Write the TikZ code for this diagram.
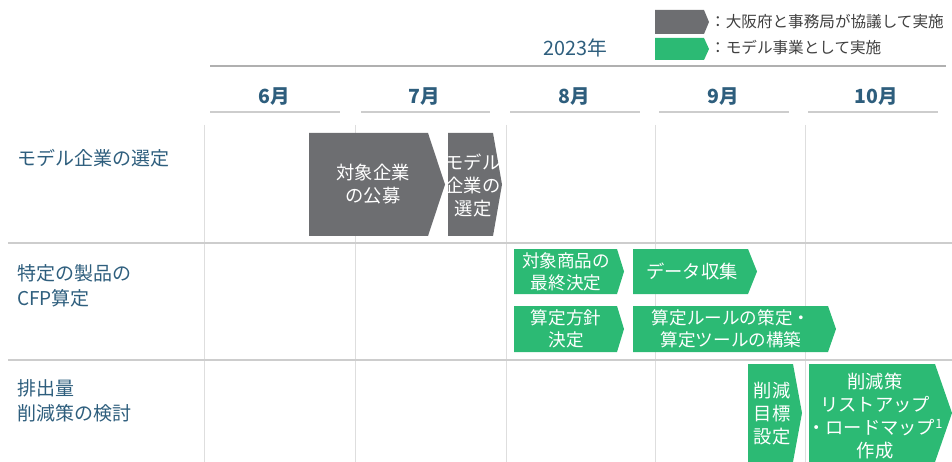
\documentclass[tikz,border=0pt]{standalone}
\usepackage{fontspec}
\setmainfont{Noto Sans CJK JP}
\definecolor{grayc}{RGB}{109,110,113}
\definecolor{greenc}{RGB}{44,186,116}
\definecolor{labelc}{RGB}{46,94,125}
\definecolor{legc}{RGB}{64,64,64}
\definecolor{gridv}{RGB}{222,222,222}
\definecolor{gridh}{RGB}{205,205,205}
\definecolor{topl}{RGB}{176,176,176}
\newcommand\chevpath[6]{% color, x1, x2, xtip, ytop, ybot
  \fill[#1] (#2,#5) -- (#3,#5) -- (#4,{(#5+#6)/2}) -- (#3,#6) -- (#2,#6) -- cycle;}
\begin{document}
\begin{tikzpicture}[x=1pt,y=-1pt,
  vline/.style={draw=gridv,line width=1pt},
  hline/.style={draw=gridh,line width=2pt},
  mline/.style={draw=gridh,line width=2.5pt},
  rowlabel/.style={anchor=west,align=left,text=labelc,font=\fontsize{19}{25}\selectfont,inner sep=0pt},
  month/.style={text=labelc,font=\fontsize{19.5}{22}\selectfont\bfseries,inner sep=0pt},
  chevtext/.style={text=white,align=center,font=\fontsize{18.3}{23}\selectfont,inner sep=0pt},
  legtext/.style={anchor=west,text=legc,font=\fontsize{15.6}{18}\selectfont,inner sep=0pt}]
\useasboundingbox (0,0) rectangle (952,462);
% grid
\foreach \x in {204,355,506,655,805} \draw[vline] (\x,125) -- (\x,462);
\draw[hline] (8,243) -- (952,243);
\draw[hline] (8,360) -- (952,360);
\draw[draw=topl,line width=1.3pt] (210,66) -- (946,66);
% header
\node[text=labelc,font=\fontsize{19.8}{22}\selectfont,inner sep=0pt] (year) at (575,48) {2023年};
\node[month] (m6) at (274,97) {6月};
\node[month] (m7) at (424,97) {7月};
\node[month] (m8) at (574,97) {8月};
\node[month] (m9) at (723,97) {9月};
\node[month] (m10) at (876,97) {10月};
\draw[mline] (210,112) -- (340,112);
\draw[mline] (361,112) -- (490,112);
\draw[mline] (510,112) -- (640,112);
\draw[mline] (659,112) -- (789,112);
\draw[mline] (808,112) -- (938,112);
% legend
\chevpath{grayc}{655}{704}{709}{10}{34}
\chevpath{greenc}{655}{704}{709}{38}{60}
\node[legtext] (leg1) at (710,22) {：大阪府と事務局が協議して実施};
\node[legtext] (leg2) at (710,48) {：モデル事業として実施};
% row labels
\node[rowlabel] (r1) at (17,158) {モデル企業の選定};
\node[rowlabel] (r2) at (17,286) {特定の製品の\\CFP算定};
\node[rowlabel] (r3) at (17,401) {排出量\\削減策の検討};
% row 1
\chevpath{grayc}{309}{428}{445}{133}{236}
\node[chevtext] (c1) at (373,184) {対象企業\\の公募};
\chevpath{grayc}{448}{493}{502}{133}{236}
\node[chevtext] (c2) at (473,185) {モデル\\企業の\\選定};
% row 2
\chevpath{greenc}{514}{617}{624}{249}{294}
\node[chevtext,font=\fontsize{17.6}{21.5}\selectfont] (c3) at (566,272) {対象商品の\\最終決定};
\chevpath{greenc}{633}{748}{757}{249}{294}
\node[chevtext] (c4) at (692,271) {データ収集};
\chevpath{greenc}{514}{617}{624}{306}{352}
\node[chevtext,font=\fontsize{17.6}{21.5}\selectfont] (c5) at (566,329) {算定方針\\決定};
\chevpath{greenc}{633}{828}{836}{306}{352}
\node[chevtext,font=\fontsize{17.6}{21.5}\selectfont] (c6) at (731,329) {算定ルールの策定・\\算定ツールの構築};
% row 3
\chevpath{greenc}{748}{793}{802}{364}{462}
\node[chevtext] (c7) at (772,414) {削減\\目標\\設定};
\chevpath{greenc}{809}{935}{952}{364}{462}
\node[chevtext] (c8) at (875,416) {削減策\\リストアップ\\・ロードマップ\textsuperscript{1}\\作成};
\end{tikzpicture}
\end{document}
